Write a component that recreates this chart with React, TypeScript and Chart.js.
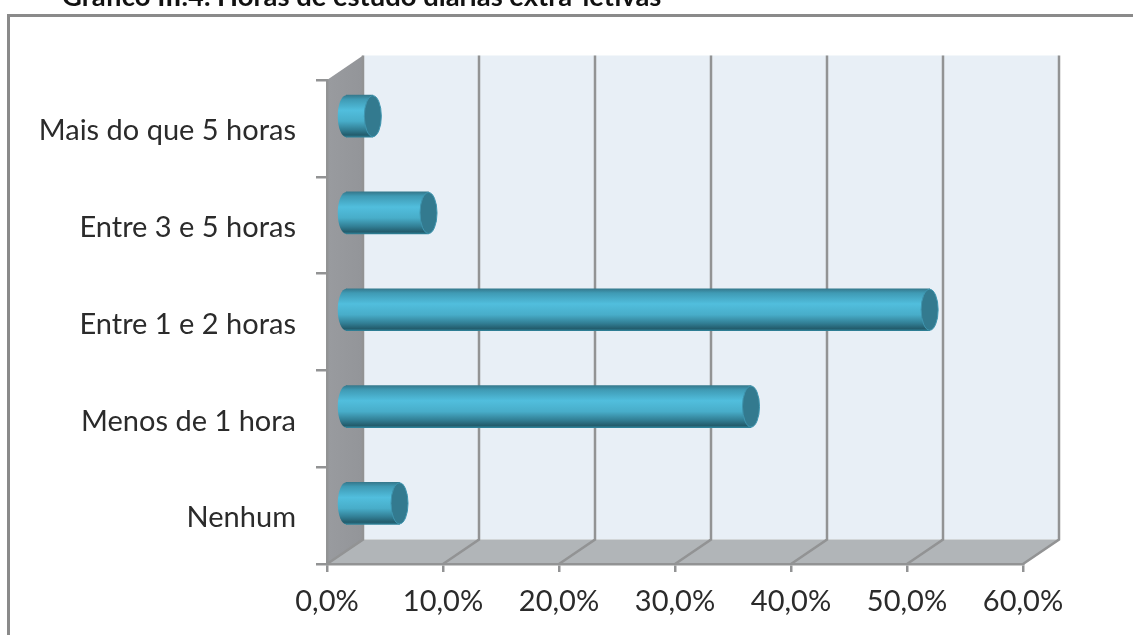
import React, { useEffect, useRef } from "react";
import { Chart, registerables } from "chart.js";

Chart.register(...registerables);

const categories = ["Nenhum", "Menos de 1 hora", "Entre 1 e 2 horas", "Entre 3 e 5 horas", "Mais do que 5 horas"];
const percentages = [4.7, 35.0, 50.4, 7.2, 2.4];
const chartTitle = "Gráfico III.4. Horas de estudo diárias extra-letivas";
const axisMax = 60;
const axisStep = 10;

const FONT = "Lato, 'Open Sans', sans-serif";
const LINE = "#929394";
const TEXT = "#2b2b2b";

// Oblique offset between the front axes and the back wall of the box.
const DEPTH_X = 36;
const DEPTH_Y = -24.5;
const BAR_THICKNESS = 42;
const CAP_RX = 8.5;

const formatPercent = (v: number) => v.toFixed(1).replace(".", ",") + "%";

function cylinderGradient(ctx: CanvasRenderingContext2D, y: number) {
  const top = y - BAR_THICKNESS / 2;
  const g = ctx.createLinearGradient(0, top, 0, top + BAR_THICKNESS);
  g.addColorStop(0, "#35798d");
  g.addColorStop(0.1, "#3f9ab4");
  g.addColorStop(0.36, "#51bedd");
  g.addColorStop(0.62, "#48adc9");
  g.addColorStop(0.82, "#327f95");
  g.addColorStop(0.95, "#235c6c");
  g.addColorStop(1, "#2f8299");
  return g;
}

const boxPlugin = {
  id: "box",
  beforeDraw(chart: any) {
    const { ctx, chartArea: a, scales } = chart;
    const x = scales.x;
    ctx.save();

    // Heading above the frame, partly cut off by the top of the page
    ctx.fillStyle = "#111111";
    ctx.font = `bold 27.4px ${FONT}`;
    ctx.textAlign = "left";
    ctx.textBaseline = "alphabetic";
    ctx.fillText(chartTitle, 62, 6);

    // Outer frame, cut off by the page on the right and at the bottom
    ctx.strokeStyle = "#8a8a8a";
    ctx.lineWidth = 3;
    ctx.beginPath();
    ctx.moveTo(8.5, 635);
    ctx.lineTo(8.5, 15.5);
    ctx.lineTo(1133, 15.5);
    ctx.stroke();

    // Back wall
    ctx.fillStyle = "#e8eff6";
    ctx.fillRect(a.left + DEPTH_X, a.top + DEPTH_Y, a.width, a.height);

    // Side wall
    const side = ctx.createLinearGradient(a.left, 0, a.left + DEPTH_X, 0);
    side.addColorStop(0, "#999b9f");
    side.addColorStop(1, "#939599");
    ctx.fillStyle = side;
    ctx.beginPath();
    ctx.moveTo(a.left, a.top);
    ctx.lineTo(a.left + DEPTH_X, a.top + DEPTH_Y);
    ctx.lineTo(a.left + DEPTH_X, a.bottom + DEPTH_Y);
    ctx.lineTo(a.left, a.bottom);
    ctx.closePath();
    ctx.fill();

    // Floor
    ctx.fillStyle = "#b1b5b8";
    ctx.beginPath();
    ctx.moveTo(a.left, a.bottom);
    ctx.lineTo(a.left + DEPTH_X, a.bottom + DEPTH_Y);
    ctx.lineTo(a.right + DEPTH_X, a.bottom + DEPTH_Y);
    ctx.lineTo(a.right, a.bottom);
    ctx.closePath();
    ctx.fill();

    // Grid lines run across the floor and up the back wall
    ctx.strokeStyle = LINE;
    ctx.lineWidth = 2.5;
    x.ticks.forEach((t: any) => {
      const px = x.getPixelForValue(t.value);
      ctx.beginPath();
      ctx.moveTo(px, a.bottom);
      ctx.lineTo(px + DEPTH_X, a.bottom + DEPTH_Y);
      ctx.lineTo(px + DEPTH_X, a.top + DEPTH_Y);
      ctx.stroke();
    });
    ctx.restore();
  },
  beforeDatasetsDraw(chart: any) {
    // Bars stand halfway into the box's depth
    const { ctx } = chart;
    ctx.save();
    ctx.translate(DEPTH_X / 2, DEPTH_Y / 2);
    chart.getDatasetMeta(0).data.forEach((bar: any) => {
      ctx.fillStyle = cylinderGradient(ctx, bar.y);
      ctx.beginPath();
      ctx.ellipse(bar.base, bar.y, CAP_RX, BAR_THICKNESS / 2, 0, 0, Math.PI * 2);
      ctx.fill();
    });
  },
  afterDatasetsDraw(chart: any) {
    const { ctx } = chart;
    chart.getDatasetMeta(0).data.forEach((bar: any) => {
      ctx.fillStyle = "#337a8f";
      ctx.strokeStyle = "#3f96b0";
      ctx.lineWidth = 1;
      ctx.beginPath();
      ctx.ellipse(bar.x, bar.y, CAP_RX, BAR_THICKNESS / 2 - 0.5, 0, 0, Math.PI * 2);
      ctx.fill();
      ctx.stroke();
    });
    ctx.restore();
  },
};

export default function App() {
  const ref = useRef<HTMLCanvasElement>(null);

  useEffect(() => {
    const chart = new Chart(ref.current!, {
      type: "bar",
      plugins: [boxPlugin],
      data: {
        labels: categories,
        datasets: [
          {
            data: percentages,
            barThickness: BAR_THICKNESS,
            borderWidth: 0,
            backgroundColor: (c: any) => {
              const yScale = c.chart.scales.y;
              const py = yScale ? yScale.getPixelForValue(c.dataIndex) : NaN;
              if (!Number.isFinite(py)) return "#4fbcdc";
              return cylinderGradient(c.chart.ctx, py);
            },
          },
        ],
      },
      options: {
        indexAxis: "y",
        responsive: false,
        animation: false,
        events: [],
        layout: { padding: { left: 20, right: 110, top: 80, bottom: 0 } },
        plugins: {
          legend: { display: false },
          tooltip: { enabled: false },
          title: { display: false },
        },
        scales: {
          x: {
            type: "linear",
            min: 0,
            max: axisMax,
            afterFit: (s: any) => {
              s.height = 71;
            },
            ticks: {
              stepSize: axisStep,
              callback: (v: any) => formatPercent(Number(v)),
              color: TEXT,
              padding: 12,
              maxRotation: 0,
              font: { family: FONT, size: 29 },
            },
            grid: { drawOnChartArea: false, drawTicks: true, tickLength: 8, color: LINE, lineWidth: 2.5 },
            border: { color: LINE, width: 2.5 },
          },
          y: {
            reverse: true,
            afterFit: (s: any) => {
              s.width = 307;
            },
            ticks: {
              color: TEXT,
              padding: 20,
              labelOffset: 2.5,
              font: { family: FONT, size: 29 },
            },
            grid: { drawOnChartArea: false, drawTicks: true, tickLength: 11, color: LINE, lineWidth: 2.5 },
            border: { color: LINE, width: 2.5 },
          },
        },
      } as any,
    });
    return () => chart.destroy();
  }, []);

  return (
    <canvas
      ref={ref}
      width={1133}
      height={635}
      style={{ position: "fixed", left: 0, top: 0, display: "block" }}
    />
  );
}
